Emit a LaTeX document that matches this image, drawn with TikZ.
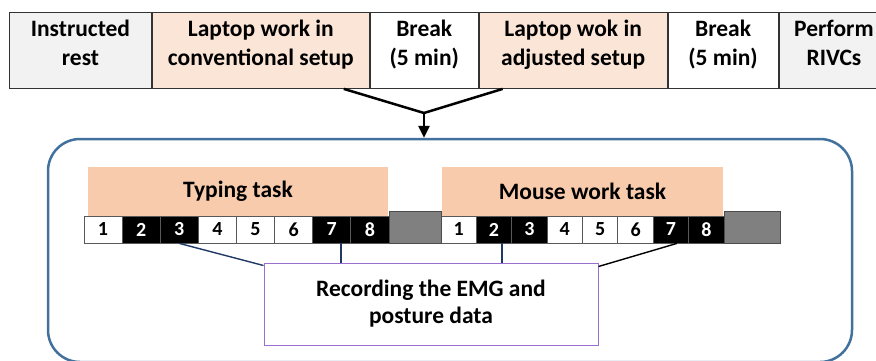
\documentclass[tikz,border=0pt]{standalone}
\usepackage{fontspec}
\setmainfont{Carlito}
\usetikzlibrary{%
  positioning,%
  arrows.meta%
}
\definecolor{peach}{HTML}{FBE5D6}
\definecolor{barpeach}{HTML}{F8CBAD}
\definecolor{restgray}{HTML}{F2F2F2}
\definecolor{frameblue}{HTML}{41719C}
\definecolor{linknavy}{HTML}{203864}
\definecolor{recpurple}{HTML}{9B6FD0}

\begin{document}
\begin{tikzpicture}[
      x=1pt, y=-1pt,
      every node/.style={font=\fontsize{23.5}{29}\selectfont\bfseries},
      node distance=0pt and 0pt,
      phase/.style={
        rectangle,
        draw=black!80,
        line width=0.9pt,
        minimum height=76pt,
        inner sep=0pt,
        text height=44pt,
        text depth=14pt,
        align=center,
        minimum width=#1
      },
      cell/.style={
        rectangle,
        draw=black!65,
        line width=0.8pt,
        inner sep=0pt,
        minimum height=27pt,
        minimum width=#1,
        font=\fontsize{20}{20}\selectfont\bfseries
      },
      gapcell/.style={
        rectangle,
        draw=black!70,
        fill=black!50,
        line width=0.8pt,
        minimum height=32pt,
        minimum width=#1
      },
      bar/.style={
        rectangle,
        fill=barpeach,
        inner sep=0pt,
        minimum height=49pt,
        minimum width=#1
      },
      merge/.style={
        line width=2.5pt,
        black
      },
      link/.style={
        line width=1.4pt,
        draw=linknavy
      }
    ]
    \useasboundingbox (0,0) rectangle (876,361);
    \clip (0,0) rectangle (876,361);

    % protocol phases
    \node[phase=142pt, fill=restgray, anchor=north west]
      (rest) at (9,12) {Instructed\\rest};
    \node[phase=217pt, fill=peach, right=of rest]
      (conv) {Laptop work in\\conventional setup};
    \node[phase=108pt, right=of conv]
      (brk1) {Break\\(5 min)};
    \node[phase=188pt, fill=peach, right=of brk1]
      (adj) {Laptop wok in\\adjusted setup};
    \node[phase=110pt, right=of adj]
      (brk2) {Break\\(5 min)};
    \node[phase=110pt, fill=restgray, right=of brk2]
      (rivc) {Perform\\RIVCs};

    % detail frame
    \node[draw=frameblue, line width=2.5pt, rounded corners=32pt,
          minimum width=804pt, minimum height=223pt]
      (frame) at (450,250.5) {};

    \coordinate (join) at (424,113);
    \draw[merge] ([xshift=-26pt]conv.south east) -- (join);
    \draw[merge] ([xshift=24pt]adj.south west) -- (join);
    \draw[merge, -{Triangle[length=12pt,width=11pt]}]
      (join) -- (join |- frame.north);

    % time slots
    \foreach \i/\bg/\fg in {1/white/black, 2/black/white, 3/black/white,
        4/white/black, 5/white/black, 6/white/black, 7/black/white, 8/black/white} {
      \node[cell=38.1pt, fill=\bg, text=\fg]
        (t\i) at ({84+38.125*(\i-0.5)},229.5) {\i};
      \node[cell=35.4pt, fill=\bg, text=\fg]
        (m\i) at ({441+35.375*(\i-0.5)},229.5) {\i};
    }
    \node[gapcell=52pt] (tgap) at (415,227) {};
    \node[gapcell=56pt] (mgap) at (752,227) {};

    \node[bar=300pt] (typing) at (238,191.5) {Typing task};
    \node[bar=281pt] (mouse) at (582.5,191.5) {Mouse work task};

    % recording
    \node[draw=recpurple, line width=1pt, fill=white, align=center,
          font=\fontsize{23.5}{27}\selectfont\bfseries,
          minimum width=334pt, minimum height=82pt]
      (rec) at (431,304) {Recording the EMG and\\posture data};

    \draw[link] (t3.south) -- ([yshift=-3pt]rec.north west);
    \draw[link] ([xshift=9pt]t7.south) -- ([xshift=9pt]t7.south |- rec.north);
    \draw[link] ([xshift=8pt]m2.south) -- ([xshift=8pt]m2.south |- rec.north);
    \draw[link, draw=black] ([xshift=6pt]m7.south) -- ([yshift=-4pt]rec.north east);
\end{tikzpicture}
\end{document}
